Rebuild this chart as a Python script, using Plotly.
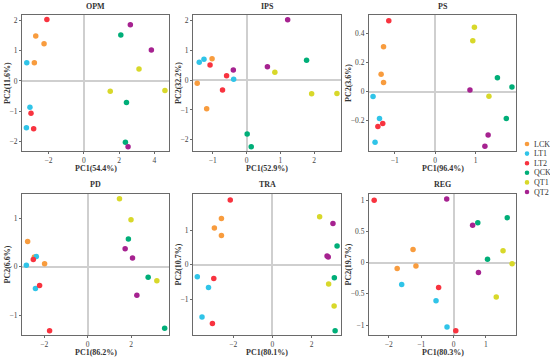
import plotly.graph_objects as go

groups = ["LCK", "LT1", "LT2", "QCK", "QT1", "QT2"]
colors = ["#F89C3E", "#30C4E8", "#F8333F", "#00AE78", "#D8D82A", "#A62290"]
point_groups = [g for g in groups for _ in range(3)]

panel_names = ["OPM", "IPS", "PS", "PD", "TRA", "REG"]
pc1_labels = ["PC1(54.4%)", "PC1(52.9%)", "PC1(96.4%)", "PC1(86.2%)", "PC1(80.1%)", "PC1(80.3%)"]
pc2_labels = ["PC2(11.6%)", "PC2(32.2%)", "PC2(3.6%)", "PC2(6.6%)", "PC2(10.7%)", "PC2(19.7%)"]

# order: LCK x3, LT1 x3, LT2 x3, QCK x3, QT1 x3, QT2 x3
opm_pc1 = [-2.72, -2.25, -2.80, -3.23, -3.05, -3.25, -2.09, -2.99, -2.84, 2.10, 2.42, 2.36, 3.13, 1.50, 4.60, 2.64, 3.83, 2.51]
opm_pc2 = [1.48, 1.22, 0.60, 0.60, -0.87, -1.54, 2.02, -1.07, -1.58, 1.51, -0.71, -2.02, 0.39, -0.34, -0.32, 1.85, 1.02, -2.17]

ips_pc1 = [-1.02, -1.46, -1.18, -1.40, -1.26, -0.38, -1.08, -0.59, -0.71, 1.78, 0.02, 0.14, 0.84, 1.93, 2.68, 1.22, -0.39, 0.62]
ips_pc2 = [0.72, -0.10, -0.96, 0.60, 0.70, 0.03, 0.51, 0.15, -0.33, 0.67, -1.81, -2.24, 0.27, -0.46, -0.45, 2.03, 0.34, 0.45]

ps_pc1 = [-1.28, -1.34, -1.28, -1.54, -1.38, -1.49, -1.15, -1.30, -1.42, 1.54, 1.90, 1.76, 0.97, 0.93, 1.33, 0.86, 1.31, 1.23]
ps_pc2 = [0.31, 0.12, 0.064, -0.034, -0.185, -0.35, 0.49, -0.22, -0.24, 0.096, 0.032, -0.185, 0.446, 0.352, -0.032, 0.011, -0.30, -0.377]

pd_pc1 = [-2.76, -2.45, -1.98, -2.82, -2.36, -2.40, -2.50, -2.21, -1.75, 1.88, 2.79, 3.55, 1.47, 2.00, 3.19, 1.73, 2.07, 2.27]
pd_pc2 = [0.52, 0.20, 0.06, 0.03, 0.21, -0.45, 0.15, -0.39, -1.32, 0.57, -0.22, -1.27, 1.40, 0.97, -0.29, 0.37, 0.18, -0.59]

tra_pc1 = [-2.60, -2.96, -2.60, -3.83, -3.26, -3.59, -2.15, -2.99, -3.06, 3.30, 3.16, 3.20, 2.41, 2.87, 3.15, 3.09, 2.79, 2.85]
tra_pc2 = [1.33, 1.06, 0.84, -0.35, -0.66, -1.51, 1.87, -0.40, -1.70, 0.54, -0.38, -1.91, 1.38, -0.56, -1.19, 1.19, 0.25, 0.22]

reg_pc1 = [-1.25, -1.74, -1.16, -1.60, -0.54, -0.20, -2.45, -0.46, 0.07, 0.75, 1.66, 1.05, 1.53, 1.81, 1.32, -0.21, 0.59, 0.77]
reg_pc2 = [0.21, -0.096, -0.053, -0.35, -0.61, -1.03, 1.00, -0.40, -1.09, 0.64, 0.72, 0.053, 0.19, -0.016, -0.55, 1.02, 0.60, -0.16]

x_ticks = [[-2, 0, 2, 4], [-1, 0, 1, 2], [-1, 0, 1], [-2, 0, 2], [-2, 0, 2], [-2, -1, 0, 1]]
y_ticks = [[-2, -1, 0, 1, 2], [-2, -1, 0, 1, 2], [-0.2, 0, 0.2, 0.4], [-1, 0, 1], [-1, 0, 1], [-1, -0.5, 0, 0.5, 1]]

# layout (pixels)
W, H = 550, 360
x_ranges = [[-3.50, 4.83], [-1.585, 2.80], [-1.64, 2.00], [-3.02, 3.75], [-4.05, 3.50], [-2.61, 1.93]]
y_ranges = [[-2.31, 2.17], [-2.38, 2.19], [-0.41, 0.53], [-1.41, 1.50], [-2.03, 2.04], [-1.16, 1.10]]
col_px = [(22, 169), (193, 341), (369, 516)]
row_px = [(15, 151), (194, 335)]

panels_x = [opm_pc1, ips_pc1, ps_pc1, pd_pc1, tra_pc1, reg_pc1]
panels_y = [opm_pc2, ips_pc2, ps_pc2, pd_pc2, tra_pc2, reg_pc2]

FONT = "Liberation Serif"
fig = go.Figure()
annotations = []
shapes = []

for i in range(6):
    r, c = divmod(i, 3)
    sfx = "" if i == 0 else str(i + 1)
    for g, col in zip(groups, colors):
        idx = [k for k, gg in enumerate(point_groups) if gg == g]
        fig.add_trace(go.Scatter(
            x=[panels_x[i][k] for k in idx], y=[panels_y[i][k] for k in idx],
            mode="markers", name=g, showlegend=False,
            marker=dict(color=col, size=5.5, line=dict(width=0)),
            xaxis="x" + sfx, yaxis="y" + sfx))
    x0, x1 = col_px[c]
    y0, y1 = row_px[r]
    common = dict(showline=True, mirror=True, linecolor="#6a6a6a", linewidth=1.2,
                  ticks="outside", ticklen=2, tickcolor="#6a6a6a", tickwidth=1,
                  tickfont=dict(family=FONT, size=7.5, color="#444"),
                  showgrid=False, zeroline=True, zerolinecolor="#cfcfcf", zerolinewidth=1.5)
    fig.layout["xaxis" + sfx] = dict(domain=[x0 / W, x1 / W], range=x_ranges[i],
                                     tickvals=x_ticks[i], anchor="y" + sfx, **common)
    fig.layout["yaxis" + sfx] = dict(domain=[1 - y1 / H, 1 - y0 / H], range=y_ranges[i],
                                     tickvals=y_ticks[i], anchor="x" + sfx, **common)
    cx = (x0 + x1) / 2 / W
    cy = 1 - (y0 + y1) / 2 / H
    title_y = 6 if r == 0 else 185
    xt_y = 168.5 if r == 0 else 352
    yt_x = [7, 178, 348][c]
    annotations.append(dict(text="<b>%s</b>" % panel_names[i], x=cx, y=1 - title_y / H, xref="paper", yref="paper",
                            showarrow=False, font=dict(family=FONT, size=8, color="#333"), xanchor="center", yanchor="middle"))
    annotations.append(dict(text="<b>%s</b>" % pc1_labels[i], x=cx, y=1 - xt_y / H, xref="paper", yref="paper",
                            showarrow=False, font=dict(family=FONT, size=8, color="#333"), xanchor="center", yanchor="middle"))
    annotations.append(dict(text="<b>%s</b>" % pc2_labels[i], x=yt_x / W, y=cy, xref="paper", yref="paper", textangle=-90,
                            showarrow=False, font=dict(family=FONT, size=8, color="#333"), xanchor="center", yanchor="middle"))

# legend drawn manually
for j, (g, col) in enumerate(zip(groups, colors)):
    ly = 144 + 9.6 * j
    shapes.append(dict(type="circle", xref="paper", yref="paper", xsizemode="pixel", ysizemode="pixel",
                       xanchor=527 / W, yanchor=1 - ly / H, x0=-2.3, x1=2.3, y0=-2.3, y1=2.3,
                       fillcolor=col, line=dict(width=0)))
    annotations.append(dict(text=g, x=532 / W, y=1 - ly / H, xref="paper", yref="paper", showarrow=False,
                            font=dict(family=FONT, size=8, color="#333"), xanchor="left", yanchor="middle"))

fig.update_layout(width=W, height=H, margin=dict(l=0, r=0, t=0, b=0),
                  paper_bgcolor="white", plot_bgcolor="white", showlegend=False,
                  annotations=annotations, shapes=shapes)
fig.write_html("out.html", config={"displayModeBar": False},
               post_script="document.body.style.margin='0';document.body.style.overflow='hidden';")
